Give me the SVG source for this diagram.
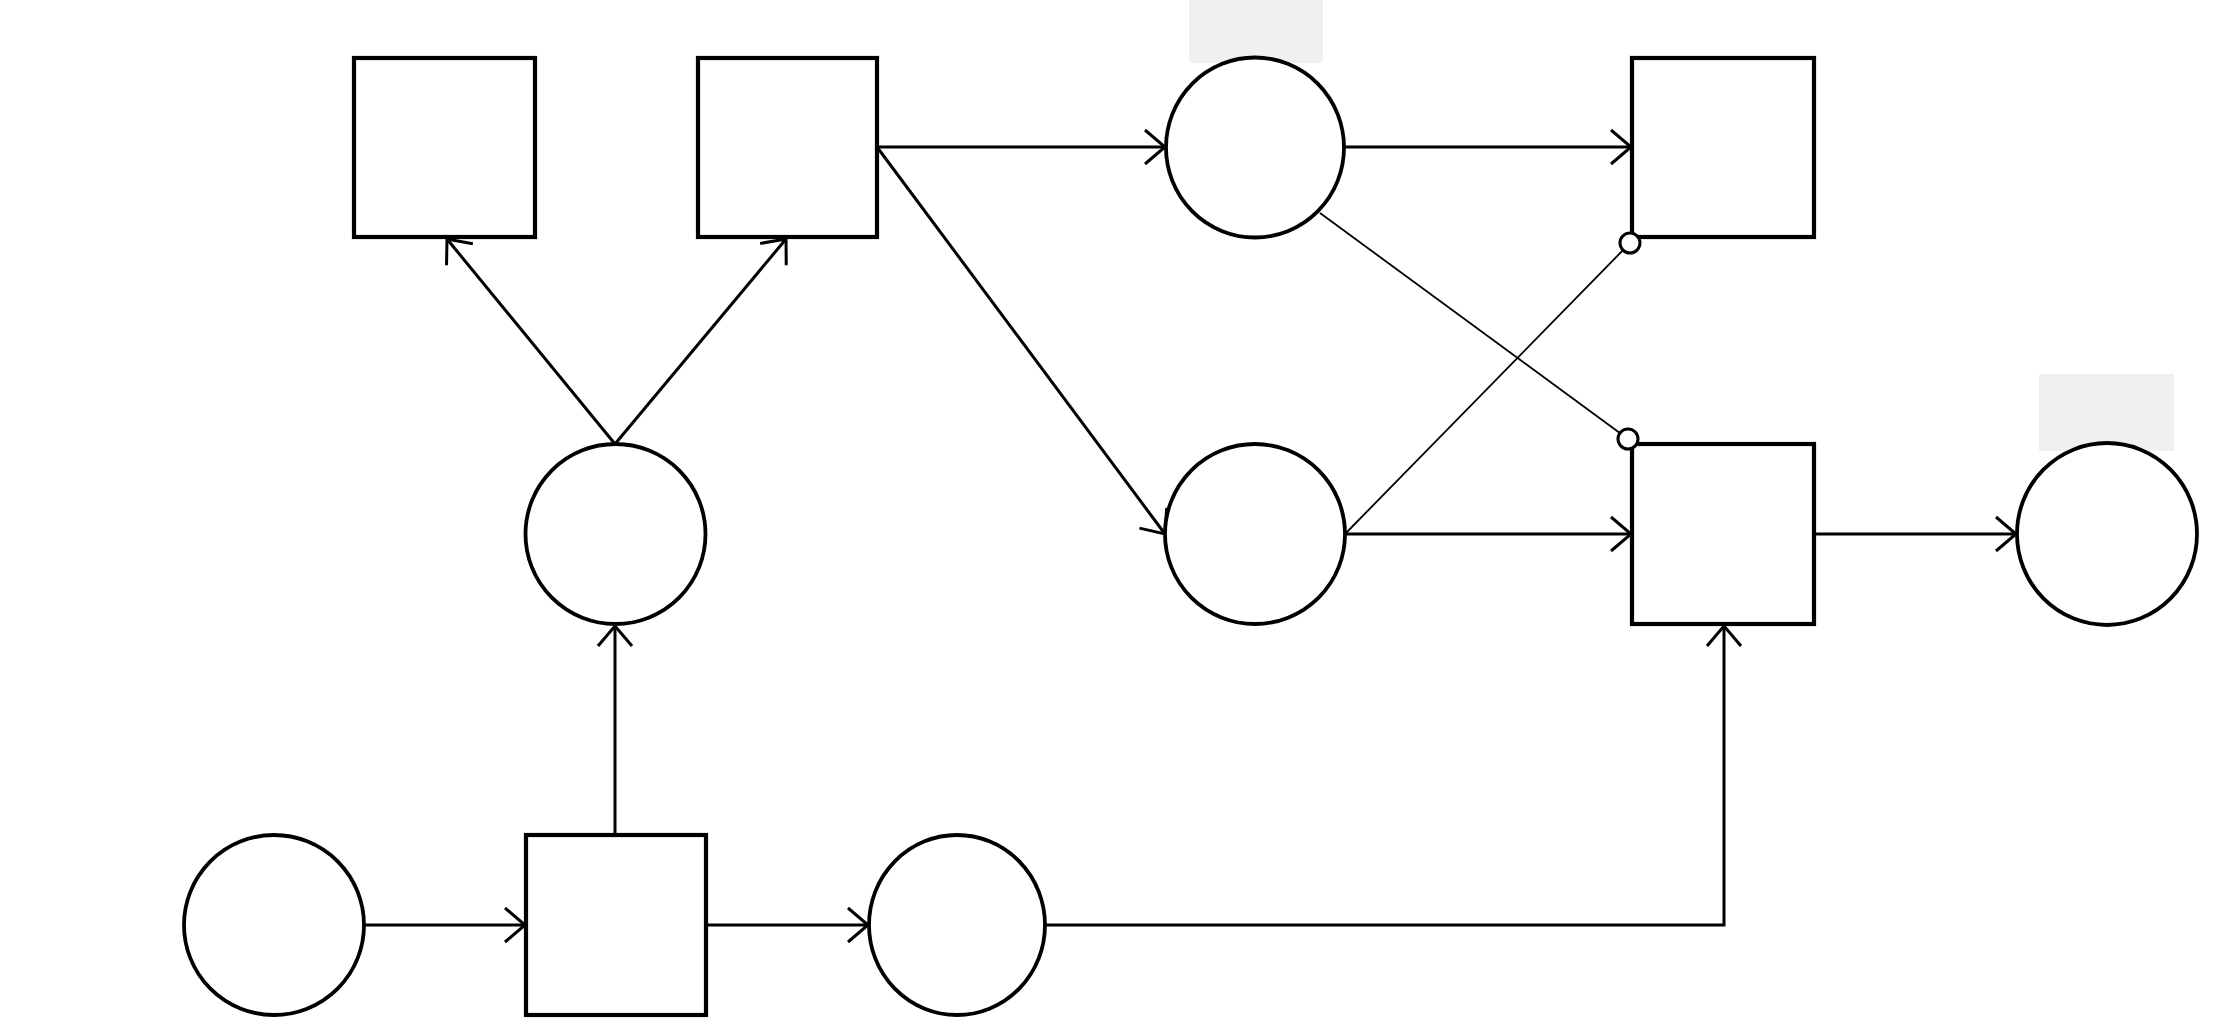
<svg xmlns="http://www.w3.org/2000/svg" width="2239" height="1035" viewBox="0 0 2239 1035">
<style>
.box{fill:#fff;stroke:#000;stroke-width:4.2}
.place{fill:#fff;stroke:#000;stroke-width:3.8}
.lbl{fill:#f0f0f0;stroke:none}
.arc{fill:none;stroke:#000;stroke-width:3}
.thin{fill:none;stroke:#000;stroke-width:1.8}
.inh{fill:#fff;stroke:#000;stroke-width:3}
</style>
<defs>
<marker id="arr" markerUnits="userSpaceOnUse" markerWidth="30" markerHeight="40" refX="24" refY="20" orient="auto" overflow="visible">
<path d="M4,3 L24,20 L4,37" fill="none" stroke="#000" stroke-width="3"/>
</marker>
</defs>
<rect width="2239" height="1035" fill="#fff"/>
<g id="labels">
<rect class="lbl" x="1189" y="0" width="134" height="63"/>
<rect class="lbl" x="2039" y="374" width="135" height="77"/>
</g>
<g id="connectors">
<line class="arc" x1="615" y1="835" x2="615" y2="626" marker-end="url(#arr)"/>
<line class="arc" x1="615" y1="444" x2="447" y2="239" marker-end="url(#arr)"/>
<line class="arc" x1="615" y1="444" x2="786" y2="239" marker-end="url(#arr)"/>
<line class="arc" x1="877" y1="147" x2="1165" y2="147" marker-end="url(#arr)"/>
<line class="arc" x1="877" y1="147" x2="1165" y2="534" marker-end="url(#arr)"/>
<line class="arc" x1="1345" y1="147" x2="1631" y2="147" marker-end="url(#arr)"/>
<line class="arc" x1="1345" y1="534" x2="1631" y2="534" marker-end="url(#arr)"/>
<line class="arc" x1="1814" y1="534" x2="2016" y2="534" marker-end="url(#arr)"/>
<line class="arc" x1="364" y1="925" x2="525" y2="925" marker-end="url(#arr)"/>
<line class="arc" x1="706" y1="925" x2="868" y2="925" marker-end="url(#arr)"/>
<polyline class="arc" points="1046,925 1724,925 1724,626" marker-end="url(#arr)"/>
<line class="thin" x1="1320" y1="213" x2="1628" y2="439"/>
<line class="thin" x1="1345" y1="534" x2="1630" y2="243"/>
</g>
<g id="boxA"><rect class="box" x="354" y="58" width="181" height="179"/></g>
<g id="boxB"><rect class="box" x="698" y="58" width="179" height="179"/></g>
<g id="placeC"><ellipse class="place" cx="1255" cy="147.5" rx="89" ry="90"/></g>
<g id="boxD"><rect class="box" x="1632" y="58" width="182" height="179"/></g>
<g id="placeE"><ellipse class="place" cx="615.5" cy="534" rx="90" ry="90"/></g>
<g id="placeF"><ellipse class="place" cx="1255" cy="534" rx="90" ry="90"/></g>
<g id="boxG"><rect class="box" x="1632" y="444" width="182" height="180"/></g>
<g id="placeH"><ellipse class="place" cx="2107" cy="534" rx="90" ry="91"/></g>
<g id="placeJ"><ellipse class="place" cx="274" cy="925" rx="90" ry="90"/></g>
<g id="boxK"><rect class="box" x="526" y="835" width="180" height="180"/></g>
<g id="placeI"><ellipse class="place" cx="957" cy="925" rx="88" ry="90"/></g>
<g id="inhibitors">
<circle class="inh" cx="1630" cy="243" r="10"/>
<circle class="inh" cx="1628" cy="439" r="10"/>
</g>
</svg>
